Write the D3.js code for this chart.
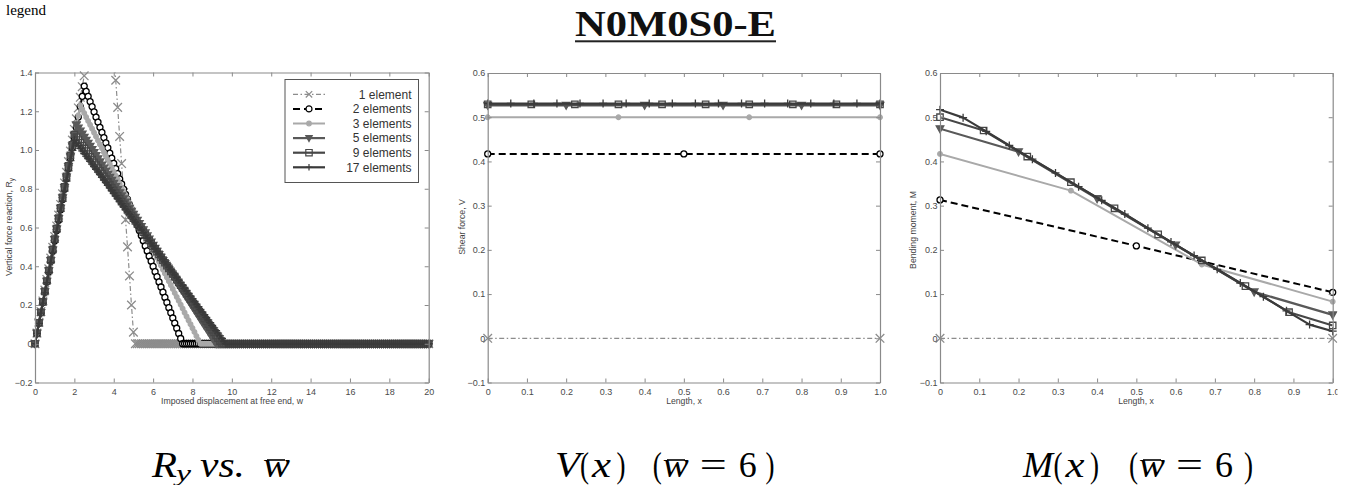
<!DOCTYPE html>
<html>
<head>
<meta charset="utf-8">
<script src="https://cdn.jsdelivr.net/npm/d3@7"></script>
<style>
  body { margin: 0; background: #fff; }
  svg { display: block; }
</style>
</head>
<body>
<svg id="fig" width="1351" height="485"></svg>
<script>
// ---------------------------------------------------------------
// Data
// ---------------------------------------------------------------
const seriesNames = ["1 element", "2 elements", "3 elements", "5 elements", "9 elements", "17 elements"];
const elementCounts = [1, 2, 3, 5, 9, 17];

// Vertical reaction R_y sampled at imposed displacement w = 0, 0.1, ..., 20
const wStep = 0.1;
const ry1 = [
  0,0.055,0.111,0.166,0.221,0.277,0.332,0.387,0.442,0.498,
  0.553,0.608,0.664,0.719,0.774,0.830,0.885,0.940,0.995,1.051,
  1.106,1.161,1.217,1.272,1.327,1.383,1.44,1.49,1.55,1.60,
  1.66,1.64,1.63,1.62,1.60,1.59,1.57,1.56,1.54,1.53,
  1.51,1.36,1.22,1.07,0.93,0.78,0.64,0.50,0.35,0.20,
  0.06,
  0,0,0,0,0,0,0,0,0,0, 0,0,0,0,0,0,0,0,0,0, 0,0,0,0,0,0,0,0,0,0,
  0,0,0,0,0,0,0,0,0,0, 0,0,0,0,0,0,0,0,0,0, 0,0,0,0,0,0,0,0,0,0,
  0,0,0,0,0,0,0,0,0,0, 0,0,0,0,0,0,0,0,0,0, 0,0,0,0,0,0,0,0,0,0,
  0,0,0,0,0,0,0,0,0,0, 0,0,0,0,0,0,0,0,0,0, 0,0,0,0,0,0,0,0,0,0,
  0,0,0,0,0,0,0,0,0,0, 0,0,0,0,0,0,0,0,0,0, 0,0,0,0,0,0,0,0,0,0
];
const ry2 = [
  0,0.053,0.106,0.160,0.213,0.266,0.319,0.372,0.426,0.479,
  0.532,0.585,0.638,0.692,0.745,0.798,0.851,0.904,0.958,1.011,
  1.064,1.117,1.170,1.224,1.277,1.330,1.303,1.277,1.250,1.224,
  1.197,1.170,1.144,1.117,1.091,1.064,1.037,1.011,0.984,0.958,
  0.931,0.904,0.878,0.851,0.825,0.798,0.771,0.745,0.718,0.692,
  0.665,0.638,0.612,0.585,0.559,0.532,0.505,0.479,0.452,0.426,
  0.399,0.372,0.346,0.319,0.293,0.266,0.239,0.213,0.186,0.160,
  0.133,0.106,0.080,0.053,0.027,0,0,0,0,0,
  0,0,0,0,0,0,0,0,0,0, 0,0,0,0,0,0,0,0,0,0, 0,0,0,0,0,0,0,0,0,0,
  0,0,0,0,0,0,0,0,0,0, 0,0,0,0,0,0,0,0,0,0, 0,0,0,0,0,0,0,0,0,0,
  0,0,0,0,0,0,0,0,0,0, 0,0,0,0,0,0,0,0,0,0, 0,0,0,0,0,0,0,0,0,0,
  0,0,0,0,0,0,0,0,0,0, 0,0,0,0,0,0,0,0,0,0, 0,0,0,0,0,0,0,0,0,0,
  0
];
const ry3 = [
  0,0.054,0.107,0.161,0.214,0.268,0.321,0.375,0.428,0.482,
  0.535,0.589,0.642,0.696,0.749,0.803,0.856,0.910,0.963,1.017,
  1.070,1.124,1.177,1.231,1.211,1.191,1.170,1.150,1.130,1.110,
  1.090,1.070,1.049,1.029,1.009,0.989,0.969,0.949,0.928,0.908,
  0.888,0.868,0.848,0.827,0.807,0.787,0.767,0.747,0.727,0.706,
  0.686,0.666,0.646,0.626,0.605,0.585,0.565,0.545,0.525,0.505,
  0.484,0.464,0.444,0.424,0.404,0.383,0.363,0.343,0.323,0.303,
  0.283,0.262,0.242,0.222,0.202,0.182,0.161,0.141,0.121,0.101,
  0.081,0.061,0.040,0.020,0,0,0,0,0,0,
  0,0,0,0,0,0,0,0,0,0, 0,0,0,0,0,0,0,0,0,0, 0,0,0,0,0,0,0,0,0,0,
  0,0,0,0,0,0,0,0,0,0, 0,0,0,0,0,0,0,0,0,0, 0,0,0,0,0,0,0,0,0,0,
  0,0,0,0,0,0,0,0,0,0, 0,0,0,0,0,0,0,0,0,0, 0,0,0,0,0,0,0,0,0,0,
  0,0,0,0,0,0,0,0,0,0, 0,0,0,0,0,0,0,0,0,0,
  0
];
const ry5 = [
  0,0.054,0.108,0.161,0.215,0.269,0.323,0.377,0.430,0.484,
  0.538,0.592,0.646,0.699,0.753,0.807,0.861,0.915,0.968,1.022,
  1.076,1.130,1.114,1.098,1.082,1.066,1.050,1.035,1.019,1.003,
  0.987,0.971,0.955,0.939,0.923,0.907,0.891,0.875,0.859,0.844,
  0.828,0.812,0.796,0.780,0.764,0.748,0.732,0.716,0.700,0.684,
  0.668,0.653,0.637,0.621,0.605,0.589,0.573,0.557,0.541,0.525,
  0.509,0.493,0.477,0.461,0.446,0.430,0.414,0.398,0.382,0.366,
  0.350,0.334,0.318,0.302,0.286,0.271,0.255,0.239,0.223,0.207,
  0.191,0.175,0.159,0.143,0.127,0.111,0.095,0.080,0.064,0.048,
  0.032,0.016,0,0,0,0,0,0,0,0,
  0,0,0,0,0,0,0,0,0,0, 0,0,0,0,0,0,0,0,0,0, 0,0,0,0,0,0,0,0,0,0,
  0,0,0,0,0,0,0,0,0,0, 0,0,0,0,0,0,0,0,0,0, 0,0,0,0,0,0,0,0,0,0,
  0,0,0,0,0,0,0,0,0,0, 0,0,0,0,0,0,0,0,0,0, 0,0,0,0,0,0,0,0,0,0,
  0,0,0,0,0,0,0,0,0,0,
  0
];
const ry9 = [
  0,0.054,0.108,0.162,0.216,0.270,0.324,0.378,0.432,0.486,
  0.540,0.594,0.648,0.702,0.756,0.810,0.864,0.918,0.972,1.026,
  1.080,1.066,1.051,1.037,1.022,1.008,0.994,0.979,0.965,0.950,
  0.936,0.922,0.907,0.893,0.878,0.864,0.850,0.835,0.821,0.806,
  0.792,0.778,0.763,0.749,0.734,0.720,0.706,0.691,0.677,0.662,
  0.648,0.634,0.619,0.605,0.590,0.576,0.562,0.547,0.533,0.518,
  0.504,0.490,0.475,0.461,0.446,0.432,0.418,0.403,0.389,0.374,
  0.360,0.346,0.331,0.317,0.302,0.288,0.274,0.259,0.245,0.230,
  0.216,0.202,0.187,0.173,0.158,0.144,0.130,0.115,0.101,0.086,
  0.072,0.058,0.043,0.029,0.014,0,0,0,0,0,
  0,0,0,0,0,0,0,0,0,0, 0,0,0,0,0,0,0,0,0,0, 0,0,0,0,0,0,0,0,0,0,
  0,0,0,0,0,0,0,0,0,0, 0,0,0,0,0,0,0,0,0,0, 0,0,0,0,0,0,0,0,0,0,
  0,0,0,0,0,0,0,0,0,0, 0,0,0,0,0,0,0,0,0,0, 0,0,0,0,0,0,0,0,0,0,
  0,0,0,0,0,0,0,0,0,0,
  0
];
const ry17 = [
  0,0.053,0.105,0.158,0.210,0.263,0.315,0.368,0.420,0.473,
  0.525,0.578,0.630,0.683,0.735,0.788,0.840,0.893,0.945,0.998,
  1.050,1.036,1.023,1.009,0.995,0.982,0.968,0.955,0.941,0.927,
  0.914,0.900,0.886,0.873,0.859,0.845,0.832,0.818,0.805,0.791,
  0.777,0.764,0.750,0.736,0.723,0.709,0.695,0.682,0.668,0.655,
  0.641,0.627,0.614,0.600,0.586,0.573,0.559,0.545,0.532,0.518,
  0.505,0.491,0.477,0.464,0.450,0.436,0.423,0.409,0.395,0.382,
  0.368,0.355,0.341,0.327,0.314,0.300,0.286,0.273,0.259,0.245,
  0.232,0.218,0.205,0.191,0.177,0.164,0.150,0.136,0.123,0.109,
  0.095,0.082,0.068,0.055,0.041,0.027,0.014,0,0,0,
  0,0,0,0,0,0,0,0,0,0, 0,0,0,0,0,0,0,0,0,0, 0,0,0,0,0,0,0,0,0,0,
  0,0,0,0,0,0,0,0,0,0, 0,0,0,0,0,0,0,0,0,0, 0,0,0,0,0,0,0,0,0,0,
  0,0,0,0,0,0,0,0,0,0, 0,0,0,0,0,0,0,0,0,0, 0,0,0,0,0,0,0,0,0,0,
  0,0,0,0,0,0,0,0,0,0,
  0
];

// Nodal shear force V(x) at w = 6 (nodes evenly spaced along the unit length)
const shear1 = [0, 0];
const shear2 = [0.417, 0.417, 0.417];
const shear3 = [0.5, 0.5, 0.5, 0.5];
const shear5 = [0.527, 0.527, 0.527, 0.527, 0.527, 0.527];
const shear9 = [0.529, 0.529, 0.529, 0.529, 0.529, 0.529, 0.529, 0.529, 0.529, 0.529];
const shear17 = [0.531, 0.531, 0.531, 0.531, 0.531, 0.531, 0.531, 0.531, 0.531,
                 0.531, 0.531, 0.531, 0.531, 0.531, 0.531, 0.531, 0.531, 0.531];

// Nodal bending moment M(x) at w = 6
const moment1 = [0, 0];
const moment2 = [0.313, 0.209, 0.104];
const moment3 = [0.417, 0.334, 0.167, 0.083];
const moment5 = [0.474, 0.422, 0.316, 0.211, 0.105, 0.053];
const moment9 = [0.500, 0.470, 0.411, 0.353, 0.294, 0.235, 0.176, 0.118, 0.059, 0.029];
const moment17 = [0.517, 0.499, 0.468, 0.436, 0.405, 0.374, 0.343, 0.312, 0.281,
                  0.249, 0.218, 0.187, 0.156, 0.125, 0.094, 0.062, 0.031, 0.016];

// Ticks
const ryXTicks = [0, 2, 4, 6, 8, 10, 12, 14, 16, 18, 20];
const ryXTickLabels = ["0", "2", "4", "6", "8", "10", "12", "14", "16", "18", "20"];
const ryYTicks = [-0.2, 0, 0.2, 0.4, 0.6, 0.8, 1.0, 1.2, 1.4];
const ryYTickLabels = ["\u22120.2", "0", "0.2", "0.4", "0.6", "0.8", "1.0", "1.2", "1.4"];
const lenTicks = [0, 0.1, 0.2, 0.3, 0.4, 0.5, 0.6, 0.7, 0.8, 0.9, 1.0];
const lenTickLabels = ["0", "0.1", "0.2", "0.3", "0.4", "0.5", "0.6", "0.7", "0.8", "0.9", "1.0"];
const vmYTicks = [-0.1, 0, 0.1, 0.2, 0.3, 0.4, 0.5, 0.6];
const vmYTickLabels = ["\u22120.1", "0", "0.1", "0.2", "0.3", "0.4", "0.5", "0.6"];

// ---------------------------------------------------------------
// Styles
// ---------------------------------------------------------------
const lineStyles = [
  { color: "#8c8c8c", width: 1.2, dash: "5,2.5,1.5,2.5", marker: "x", size: 4.3 },
  { color: "#000000", width: 2.0, dash: "7,4",           marker: "o", size: 3.0 },
  { color: "#a9a9a9", width: 2.0, dash: null,            marker: ".", size: 2.3 },
  { color: "#595959", width: 2.2, dash: null,            marker: "v", size: 3.8 },
  { color: "#474747", width: 2.2, dash: null,            marker: "s", size: 3.2 },
  { color: "#3a3a3a", width: 2.2, dash: null,            marker: "+", size: 4.0 }
];
const AXIS_COLOR = "#8a8a8a";
const TICK_TEXT = "#4a4a4a";
const SANS = "'Liberation Sans', Arial, Helvetica, sans-serif";
const SERIF = "'Liberation Serif', 'Times New Roman', serif";

const svg = d3.select("#fig");

// Marker glyph paths centred on (0,0)
const markerPath = {
  "x": s => `M${-s},${-s}L${s},${s}M${-s},${s}L${s},${-s}`,
  "o": s => `M${s},0A${s},${s} 0 1,1 ${-s},0A${s},${s} 0 1,1 ${s},0Z`,
  ".": s => `M${s},0A${s},${s} 0 1,1 ${-s},0A${s},${s} 0 1,1 ${s},0Z`,
  "v": s => `M${-s},${-s * 0.75}L${s},${-s * 0.75}L0,${s * 1.05}Z`,
  "s": s => `M${-s},${-s}H${s}V${s}H${-s}Z`,
  "+": s => `M${-s},0H${s}M0,${-s}V${s}`
};
function markerFill(st) {
  if (st.marker === "o") return "#ffffff";
  if (st.marker === "." || st.marker === "v") return st.color;
  return "none";
}

// Axes box with inward ticks on all four sides
function drawFrame(g, x, y, xt, xl, yt, yl) {
  const [x0, x1] = x.range();
  const [y0, y1] = y.range();
  const axes = [
    g.append("g").attr("transform", `translate(0,${y0})`)
      .call(d3.axisBottom(x).tickValues(xt).tickFormat((d, i) => xl[i])
        .tickSizeInner(-4).tickSizeOuter(0).tickPadding(6)),
    g.append("g").attr("transform", `translate(0,${y1})`)
      .call(d3.axisTop(x).tickValues(xt).tickFormat("")
        .tickSizeInner(-4).tickSizeOuter(0)),
    g.append("g").attr("transform", `translate(${x0},0)`)
      .call(d3.axisLeft(y).tickValues(yt).tickFormat((d, i) => yl[i])
        .tickSizeInner(-4).tickSizeOuter(0).tickPadding(2.5)),
    g.append("g").attr("transform", `translate(${x1},0)`)
      .call(d3.axisRight(y).tickValues(yt).tickFormat("")
        .tickSizeInner(-4).tickSizeOuter(0))
  ];
  axes.forEach(a => {
    a.attr("font-family", SANS).attr("font-size", 9);
    a.select(".domain").attr("stroke", AXIS_COLOR).attr("stroke-width", 1.2);
    a.selectAll(".tick line").attr("stroke", AXIS_COLOR).attr("stroke-width", 1);
    a.selectAll(".tick text").attr("fill", TICK_TEXT);
  });
}

function axisTitle(g, x, y, rotate) {
  const t = g.append("text")
    .attr("font-family", SANS).attr("font-size", 8.7).attr("fill", "#444")
    .attr("text-anchor", "middle");
  if (rotate) t.attr("transform", `translate(${x},${y}) rotate(-90)`);
  else t.attr("x", x).attr("y", y);
  return t;
}

// One panel: series of nodal values drawn with lines + markers
function drawPanel(g, x, y, seriesList, xOf, clipId) {
  const [x0, x1] = x.range();
  const [y0, y1] = y.range();
  g.append("clipPath").attr("id", clipId)
    .append("rect").attr("x", x0).attr("y", y1).attr("width", x1 - x0).attr("height", y0 - y1);
  const [ymin, ymax] = y.domain();
  seriesList.forEach((vals, si) => {
    const st = lineStyles[si];
    const line = d3.line().x((d, i) => x(xOf(i, vals.length))).y(d => y(d));
    const sg = g.append("g");
    sg.append("path").attr("d", line(vals))
      .attr("fill", "none").attr("stroke", st.color).attr("stroke-width", st.width)
      .attr("stroke-dasharray", st.dash).attr("stroke-linejoin", "round")
      .attr("clip-path", `url(#${clipId})`);
    sg.selectAll("path.mk")
      .data(vals.map((v, i) => [xOf(i, vals.length), v]).filter(d => d[1] >= ymin && d[1] <= ymax))
      .join("path").attr("class", "mk")
      .attr("transform", d => `translate(${x(d[0])},${y(d[1])})`)
      .attr("d", markerPath[st.marker](st.size))
      .attr("fill", markerFill(st)).attr("stroke", st.color).attr("stroke-width", 1.3);
  });
}

// ---------------------------------------------------------------
// Panel 1: R_y vs w
// ---------------------------------------------------------------
const g1 = svg.append("g");
const x1s = d3.scaleLinear().domain([0, 20]).range([35, 428.7]);
const y1s = d3.scaleLinear().domain([-0.2, 1.4]).range([382.5, 72.5]);
drawPanel(g1, x1s, y1s, [ry1, ry2, ry3, ry5, ry9, ry17], (i) => i * wStep, "clip1");
drawFrame(g1, x1s, y1s, ryXTicks, ryXTickLabels, ryYTicks, ryYTickLabels);
axisTitle(g1, 232, 403.5, false).text("Imposed displacement at free end, w");
const ylab1 = axisTitle(g1, 11.5, 227, true);
ylab1.append("tspan").text("Vertical force reaction, R");
ylab1.append("tspan").attr("font-size", 6.5).attr("dy", 2).text("y");

// legend
const legend = g1.append("g");
legend.append("rect").attr("x", 285).attr("y", 79.5).attr("width", 133.5).attr("height", 103)
  .attr("fill", "#fff").attr("stroke", "#555").attr("stroke-width", 1);
seriesNames.forEach((name, i) => {
  const st = lineStyles[i];
  const ry = 94.3 + i * 14.6;
  legend.append("line").attr("x1", 293).attr("x2", 325).attr("y1", ry).attr("y2", ry)
    .attr("stroke", st.color).attr("stroke-width", st.width).attr("stroke-dasharray", st.dash);
  legend.append("path").attr("transform", `translate(309,${ry})`)
    .attr("d", markerPath[st.marker](Math.min(st.size, 3.2)))
    .attr("fill", markerFill(st)).attr("stroke", st.color).attr("stroke-width", 1.2);
  legend.append("text").attr("x", 411.5).attr("y", ry).attr("dy", "0.36em")
    .attr("text-anchor", "end").attr("font-family", SANS).attr("font-size", 12)
    .attr("fill", "#333").text(name);
});

// ---------------------------------------------------------------
// Panel 2: V(x)
// ---------------------------------------------------------------
const nodeX = (i, n) => i / (n - 1);
const g2 = svg.append("g");
const x2s = d3.scaleLinear().domain([0, 1]).range([487.7, 880]);
const y2s = d3.scaleLinear().domain([-0.1, 0.6]).range([382.5, 73]);
drawPanel(g2, x2s, y2s, [shear1, shear2, shear3, shear5, shear9, shear17], nodeX, "clip2");
drawFrame(g2, x2s, y2s, lenTicks, lenTickLabels, vmYTicks, vmYTickLabels);
axisTitle(g2, 684, 403.5, false).text("Length, x");
axisTitle(g2, 464.5, 227, true).text("Shear force, V");

// ---------------------------------------------------------------
// Panel 3: M(x)
// ---------------------------------------------------------------
const g3 = svg.append("g");
const x3s = d3.scaleLinear().domain([0, 1]).range([940, 1332.7]);
const y3s = d3.scaleLinear().domain([-0.1, 0.6]).range([382.5, 73]);
drawPanel(g3, x3s, y3s, [moment1, moment2, moment3, moment5, moment9, moment17], nodeX, "clip3");
drawFrame(g3, x3s, y3s, lenTicks, lenTickLabels, vmYTicks, vmYTickLabels);
axisTitle(g3, 1136, 403.5, false).text("Length, x");
axisTitle(g3, 916, 230, true).text("Bending moment, M");

// the figure is cut just past the right edge of the third axes
svg.append("rect").attr("x", 1337.5).attr("y", 40).attr("width", 20).attr("height", 380).attr("fill", "#fff");

// ---------------------------------------------------------------
// Titles
// ---------------------------------------------------------------
svg.append("text").attr("x", 6).attr("y", 14.5).attr("font-family", SERIF)
  .attr("font-size", 15).attr("fill", "#000").text("legend");

svg.append("text").attr("x", 575).attr("y", 36)
  .attr("font-family", SERIF).attr("font-weight", "bold").attr("font-size", 36)
  .attr("textLength", 201).attr("lengthAdjust", "spacingAndGlyphs")
  .attr("fill", "#111").text("N0M0S0-E");
svg.append("rect").attr("x", 575).attr("y", 40.3).attr("width", 201).attr("height", 2).attr("fill", "#222");

// Math-style captions: each run is placed in its own horizontal slot
function caption(runs, baseline) {
  const g = svg.append("g");
  runs.forEach(r => {
    g.append("text").attr("x", r.x0).attr("y", baseline + (r.dy || 0))
      .attr("font-family", SERIF).attr("font-size", r.fs || 35)
      .attr("font-style", r.it ? "italic" : "normal").attr("fill", "#000")
      .attr("textLength", r.x1 - r.x0).attr("lengthAdjust", "spacingAndGlyphs")
      .text(r.t);
    if (r.bar) {
      g.append("line").attr("x1", r.bar[0]).attr("x2", r.bar[1])
        .attr("y1", 460).attr("y2", 460).attr("stroke", "#000").attr("stroke-width", 1.6);
    }
  });
}
caption([
  { t: "R", x0: 152, x1: 177, it: true },
  { t: "y", x0: 176, x1: 191, it: true, fs: 24, dy: 4 },
  { t: "vs.", x0: 200, x1: 245, it: true },
  { t: "w", x0: 263, x1: 290, it: true, bar: [267, 285] }
], 477);
caption([
  { t: "V", x0: 555, x1: 580, it: true },
  { t: "(", x0: 580, x1: 589 },
  { t: "x", x0: 592, x1: 611, it: true },
  { t: ")", x0: 616.5, x1: 625.5 },
  { t: "(", x0: 652.7, x1: 661.7 },
  { t: "w", x0: 662.7, x1: 688.7, it: true, bar: [667, 685] },
  { t: "=", x0: 699.7, x1: 726.7 },
  { t: "6", x0: 738.7, x1: 756.7 },
  { t: ")", x0: 765.5, x1: 774.5 }
], 477);
caption([
  { t: "M", x0: 1023, x1: 1053, it: true },
  { t: "(", x0: 1053.5, x1: 1062.5 },
  { t: "x", x0: 1065.5, x1: 1084.5, it: true },
  { t: ")", x0: 1090, x1: 1099 },
  { t: "(", x0: 1129, x1: 1138 },
  { t: "w", x0: 1139, x1: 1165, it: true, bar: [1143, 1161] },
  { t: "=", x0: 1176, x1: 1203 },
  { t: "6", x0: 1215, x1: 1233 },
  { t: ")", x0: 1244, x1: 1253 }
], 477);
</script>
</body>
</html>
